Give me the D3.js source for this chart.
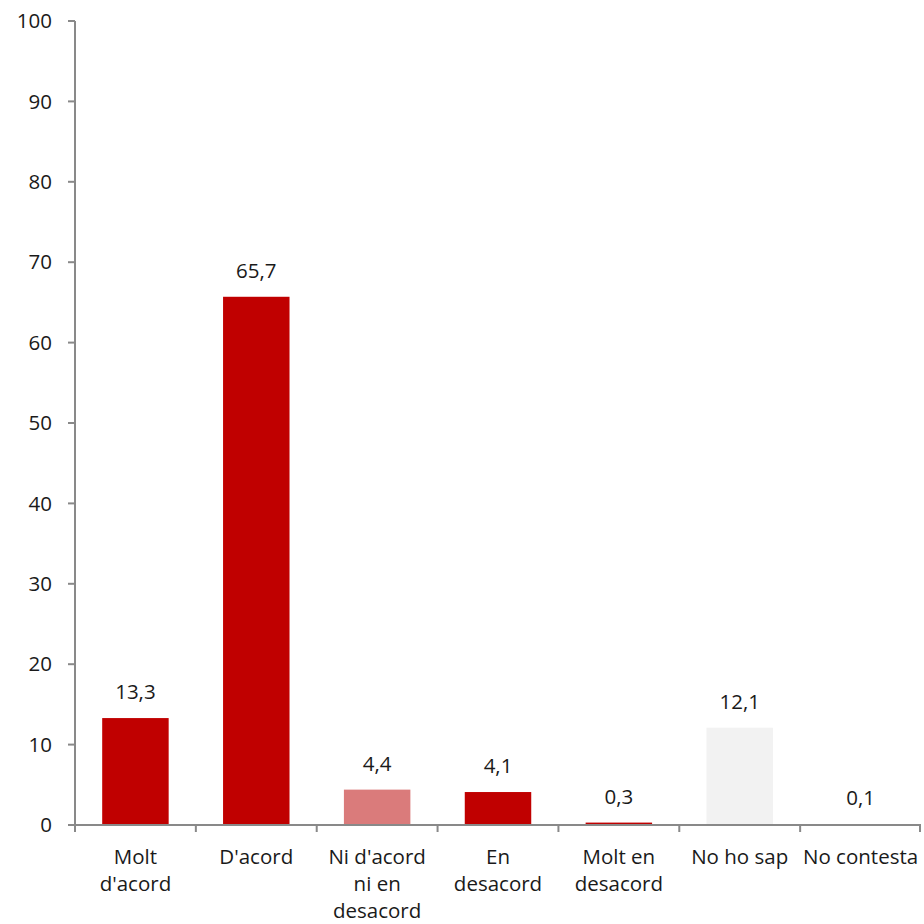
<!DOCTYPE html>
<html><head><meta charset="utf-8">
<script src="https://cdn.jsdelivr.net/npm/d3@7"></script>
<style>body{margin:0;background:#fff}svg{display:block}text{font-family:"Open Sans",sans-serif;fill:#1a1a1a}</style>
</head><body><svg id="c" width="924" height="924"></svg>
<script>
const categories = [["Molt","d'acord"],["D'acord"],["Ni d'acord","ni en","desacord"],["En","desacord"],["Molt en","desacord"],["No ho sap"],["No contesta"]];
const values = [13.3, 65.7, 4.4, 4.1, 0.3, 12.1, 0.1];
const labels = ["13,3","65,7","4,4","4,1","0,3","12,1","0,1"];
const colors = ["#C00000","#C00000","#DA7B7B","#C00000","#C00000","#F2F2F2","#C00000"];
const yTicks = [0,10,20,30,40,50,60,70,80,90,100];

(function(){
const svg = d3.select("#c");
const mLeft = 75, mRight = 921, mTop = 21, mBottom = 825;
const fs = "20.5px";
const keys = categories.map((c,i)=>i);
const x = d3.scaleBand().domain(keys).range([mLeft,mRight]).padding(0);
const y = d3.scaleLinear().domain([0,100]).range([mBottom,mTop]);
const axisColor = "#898989";

// bars
const bw = x.bandwidth()*0.55;
svg.selectAll("rect.bar").data(values).enter().append("rect")
  .attr("x",(d,i)=>x(i)+(x.bandwidth()-bw)/2)
  .attr("y",d=>y(d))
  .attr("width",bw)
  .attr("height",d=>y(0)-y(d))
  .attr("fill",(d,i)=>colors[i]);

// value labels
svg.selectAll("text.val").data(values).enter().append("text")
  .attr("x",(d,i)=>x(i)+x.bandwidth()/2)
  .attr("y",d=>y(d)-19)
  .attr("text-anchor","middle")
  .attr("font-size",fs)
  .text((d,i)=>labels[i]);

// y axis
const ya = svg.append("g");
ya.append("line").attr("x1",mLeft).attr("x2",mLeft).attr("y1",y(100)).attr("y2",mBottom+7).attr("stroke",axisColor).attr("stroke-width",2);
yTicks.forEach(t=>{
  ya.append("line").attr("x1",mLeft-7).attr("x2",mLeft).attr("y1",y(t)).attr("y2",y(t)).attr("stroke",axisColor).attr("stroke-width",2);
  ya.append("text").attr("x",52).attr("y",y(t)).attr("dy","0.35em").attr("text-anchor","end").attr("font-size",fs).text(t);
});

// x axis
const xa = svg.append("g");
xa.append("line").attr("x1",mLeft).attr("x2",mRight).attr("y1",mBottom).attr("y2",mBottom).attr("stroke",axisColor).attr("stroke-width",2);
keys.concat([keys.length]).forEach(i=>{
  const px = i<keys.length ? x(i) : mRight-1;
  xa.append("line").attr("x1",px).attr("x2",px).attr("y1",mBottom).attr("y2",mBottom+7).attr("stroke",axisColor).attr("stroke-width",2);
});
categories.forEach((lines,i)=>{
  const t = xa.append("text").attr("x",x(i)+x.bandwidth()/2).attr("y",864).attr("text-anchor","middle").attr("font-size",fs);
  lines.forEach((l,j)=>t.append("tspan").attr("x",x(i)+x.bandwidth()/2).attr("dy",j?27:0).text(l));
});
})();
</script></body></html>
